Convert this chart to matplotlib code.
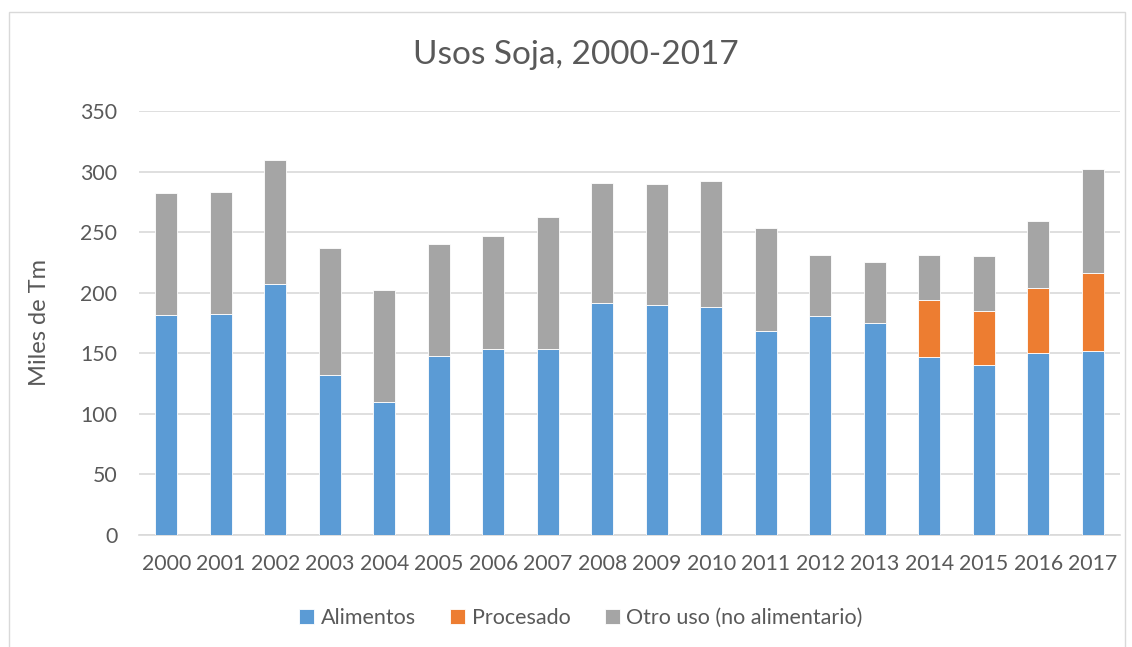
import numpy as np
import matplotlib
matplotlib.use('Agg')
import matplotlib.pyplot as plt
from matplotlib.patches import Rectangle

plt.rcParams['font.family'] = ['Lato', 'DejaVu Sans']

years = [str(y) for y in range(2000, 2018)]
alimentos = [182.0, 182.3, 207.6, 132.4, 110.1, 148.1, 153.6, 153.6, 191.1,
             189.7, 188.0, 168.8, 180.6, 175.4, 147.3, 140.7, 150.6, 151.7]
procesado = [0, 0, 0, 0, 0, 0, 0, 0, 0,
             0, 0, 0, 0, 0, 46.3, 43.8, 52.9, 64.2]
otro_uso = [99.9, 101.0, 102.1, 104.4, 92.3, 92.3, 93.6, 109.1, 99.6,
            100.2, 103.9, 84.8, 50.9, 50.1, 37.9, 45.9, 56.1, 86.4]

txt = '#595959'
c_alim, c_proc, c_otro = '#5B9BD5', '#ED7D31', '#A5A5A5'

fig = plt.figure(figsize=(11.32, 6.47), dpi=100)
# chart border
fig.patches.append(Rectangle((9/1132, -0.05), 1116/1132, 1 - 12/647 + 0.05,
                             transform=fig.transFigure, fill=False,
                             edgecolor='#D9D9D9', linewidth=1))

ax = fig.add_axes([139/1132, 1 - 535/647, 981/1132, 424/647])
x = np.arange(len(years))
a = np.array(alimentos)
p = np.array(procesado)
o = np.array(otro_uso)
w = 0.4
ax.bar(x, a, w, color=c_alim, edgecolor='white', linewidth=0.6, label='Alimentos', zorder=3)
ax.bar(x, p, w, bottom=a, color=c_proc, edgecolor='white', linewidth=0.6, label='Procesado', zorder=3)
ax.bar(x, o, w, bottom=a + p, color=c_otro, edgecolor='white', linewidth=0.6,
       label='Otro uso (no alimentario)', zorder=3)

ax.set_xlim(-0.5, len(years) - 0.5)
ax.set_ylim(0, 350)
ax.set_yticks(range(0, 351, 50))
ax.set_xticks(x)
ax.set_xticklabels(years)
ax.yaxis.grid(True, color='#D9D9D9', linewidth=1.2, zorder=0)
for s in ['top', 'right', 'left']:
    ax.spines[s].set_visible(False)
ax.spines['bottom'].set_color('#D9D9D9')
ax.spines['bottom'].set_linewidth(1.2)
ax.tick_params(axis='both', length=0, labelsize=15.3, colors=txt)
ax.tick_params(axis='x', pad=14)
ax.tick_params(axis='y', pad=15.5)
ax.set_ylabel('Miles de Tm', fontsize=17, color=txt, labelpad=22)

fig.text(576/1132, 1 - 55/647, 'Usos Soja, 2000-2017', ha='center', va='center',
         fontsize=24, color=txt)

leg = fig.legend(loc='center', bbox_to_anchor=(581/1132, 1 - 618/647), ncol=3,
                 frameon=False, fontsize=15.5, handlelength=0.7, handleheight=0.7,
                 handletextpad=0.3, columnspacing=1.6)
for t in leg.get_texts():
    t.set_color(txt)

fig.savefig('out.png', dpi=100)
